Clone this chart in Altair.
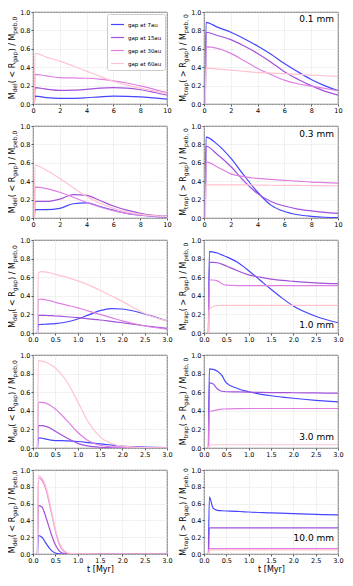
import altair as alt
import pandas as pd

# ---------------- data ----------------
series = ["gap at 7au", "gap at 15au", "gap at 30au", "gap at 60au"]
colors = ["#4646ff", "#a352dc", "#de80e3", "#ffc4d0"]
grain_sizes = ["0.1 mm", "0.3 mm", "1.0 mm", "3.0 mm", "10.0 mm"]

t_long = [0.1, 0.15, 1, 2, 3, 4, 5, 6, 7, 8, 9, 10]
t_short = [0.1, 0.12, 0.2, 0.3, 0.4, 0.5, 0.75, 1.0, 1.25, 1.5, 1.75, 2.0, 2.5, 3.0]
t_fast = [0.1, 0.12, 0.2, 0.3, 0.4, 0.5, 0.6, 0.7, 0.8, 1.0, 1.5, 2.0, 2.5, 3.0]

# 0.1 mm
del_01 = [
    [0, 0.085, 0.070, 0.062, 0.062, 0.068, 0.078, 0.085, 0.083, 0.077, 0.066, 0.054],
    [0, 0.177, 0.162, 0.148, 0.150, 0.160, 0.172, 0.177, 0.172, 0.155, 0.128, 0.097],
    [0, 0.322, 0.305, 0.287, 0.283, 0.280, 0.270, 0.252, 0.228, 0.197, 0.162, 0.123],
    [0, 0.550, 0.510, 0.466, 0.413, 0.357, 0.300, 0.247, 0.205, 0.172, 0.143, 0.115],
]
trap_01 = [
    [0, 0.888, 0.835, 0.780, 0.710, 0.630, 0.540, 0.440, 0.350, 0.267, 0.200, 0.144],
    [0, 0.780, 0.745, 0.700, 0.630, 0.550, 0.455, 0.350, 0.270, 0.200, 0.140, 0.097],
    [0, 0.620, 0.605, 0.550, 0.470, 0.386, 0.320, 0.260, 0.220, 0.195, 0.170, 0.144],
    [0, 0.390, 0.380, 0.368, 0.355, 0.343, 0.336, 0.330, 0.322, 0.314, 0.307, 0.300],
]
# 0.3 mm
del_03 = [
    [0, 0.090, 0.090, 0.105, 0.155, 0.165, 0.125, 0.085, 0.050, 0.030, 0.018, 0.010],
    [0, 0.180, 0.180, 0.205, 0.255, 0.245, 0.190, 0.130, 0.085, 0.052, 0.030, 0.020],
    [0, 0.335, 0.320, 0.280, 0.225, 0.170, 0.120, 0.080, 0.050, 0.030, 0.020, 0.012],
    [0, 0.575, 0.520, 0.430, 0.330, 0.235, 0.160, 0.105, 0.065, 0.040, 0.025, 0.015],
]
trap_03 = [
    [0, 0.880, 0.800, 0.650, 0.460, 0.280, 0.140, 0.070, 0.035, 0.018, 0.008, 0.004],
    [0, 0.780, 0.690, 0.560, 0.400, 0.265, 0.180, 0.130, 0.097, 0.077, 0.062, 0.050],
    [0, 0.610, 0.555, 0.480, 0.450, 0.430, 0.420, 0.410, 0.400, 0.390, 0.385, 0.380],
    [0, 0.360, 0.360, 0.360, 0.360, 0.358, 0.356, 0.355, 0.354, 0.352, 0.351, 0.350],
]
# 1.0 mm
del_10 = [
    [0, 0.090, 0.092, 0.095, 0.098, 0.100, 0.118, 0.150, 0.195, 0.240, 0.262, 0.258, 0.205, 0.130],
    [0, 0.190, 0.190, 0.188, 0.186, 0.183, 0.175, 0.165, 0.152, 0.140, 0.125, 0.110, 0.078, 0.050],
    [0, 0.360, 0.365, 0.355, 0.345, 0.330, 0.300, 0.270, 0.235, 0.200, 0.165, 0.130, 0.075, 0.040],
    [0, 0.650, 0.660, 0.655, 0.645, 0.630, 0.600, 0.560, 0.515, 0.460, 0.400, 0.340, 0.210, 0.130],
]
trap_10 = [
    [0, 0.875, 0.870, 0.860, 0.840, 0.820, 0.760, 0.670, 0.570, 0.470, 0.375, 0.290, 0.180, 0.110],
    [0, 0.760, 0.760, 0.755, 0.740, 0.720, 0.670, 0.625, 0.600, 0.580, 0.565, 0.555, 0.540, 0.530],
    [0, 0.570, 0.570, 0.560, 0.530, 0.515, 0.510, 0.510, 0.510, 0.510, 0.510, 0.510, 0.510, 0.510],
    [0, 0.250, 0.285, 0.295, 0.296, 0.296, 0.296, 0.296, 0.296, 0.296, 0.296, 0.296, 0.296, 0.296],
]
# 3.0 mm
del_30 = [
    [0, 0.110, 0.105, 0.095, 0.085, 0.080, 0.077, 0.070, 0.058, 0.045, 0.032, 0.020, 0.010, 0.005],
    [0, 0.240, 0.240, 0.230, 0.210, 0.180, 0.110, 0.050, 0.020, 0.008, 0.003, 0.001, 0.0, 0.0],
    [0, 0.490, 0.490, 0.480, 0.455, 0.420, 0.300, 0.170, 0.075, 0.030, 0.013, 0.006, 0.002, 0.001],
    [0, 0.940, 0.935, 0.920, 0.895, 0.860, 0.720, 0.500, 0.270, 0.120, 0.050, 0.020, 0.005, 0.002],
]
trap_30 = [
    [0, 0.850, 0.845, 0.825, 0.780, 0.700, 0.640, 0.605, 0.580, 0.562, 0.548, 0.535, 0.513, 0.495],
    [0, 0.700, 0.690, 0.635, 0.610, 0.605, 0.603, 0.600, 0.598, 0.596, 0.595, 0.594, 0.592, 0.590],
    [0, 0.390, 0.400, 0.410, 0.418, 0.420, 0.423, 0.425, 0.425, 0.425, 0.425, 0.425, 0.425, 0.425],
    [0, 0.030, 0.035, 0.035, 0.035, 0.035, 0.035, 0.035, 0.035, 0.035, 0.035, 0.035, 0.035, 0.035],
]
# 10.0 mm
del_100 = [
    [0, 0.220, 0.200, 0.120, 0.050, 0.012, 0.002, 0.0, 0.0, 0.0, 0.0, 0.0, 0.0, 0.0],
    [0, 0.580, 0.560, 0.420, 0.250, 0.110, 0.030, 0.006, 0.001, 0.0, 0.0, 0.0, 0.0, 0.0],
    [0, 0.910, 0.880, 0.750, 0.520, 0.280, 0.100, 0.030, 0.006, 0.0, 0.0, 0.0, 0.0, 0.0],
    [0, 0.935, 0.905, 0.780, 0.550, 0.300, 0.120, 0.040, 0.010, 0.001, 0.0, 0.0, 0.0, 0.0],
]
trap_100 = [
    [0, 0.680, 0.550, 0.520, 0.515, 0.512, 0.510, 0.508, 0.506, 0.500, 0.490, 0.480, 0.472, 0.465],
    [0, 0.310, 0.310, 0.310, 0.310, 0.310, 0.310, 0.310, 0.310, 0.310, 0.310, 0.310, 0.310, 0.310],
    [0, 0.065, 0.065, 0.065, 0.065, 0.065, 0.065, 0.065, 0.065, 0.065, 0.065, 0.065, 0.065, 0.065],
    [0, 0.050, 0.050, 0.050, 0.050, 0.050, 0.050, 0.050, 0.050, 0.050, 0.050, 0.050, 0.050, 0.050],
]

rows = [
    (t_long, del_01, trap_01),
    (t_long, del_03, trap_03),
    (t_short, del_10, trap_10),
    (t_short, del_30, trap_30),
    (t_fast, del_100, trap_100),
]

# ---------------- layout / style ----------------
PW = 134
ROW_H = [92, 92, 93, 93, 84]
FONT = "DejaVu Sans"
MAIN_FS, SUB_FS = 8.0, 6.0
TITLE_X = -18.0
SUB_SHIFT = 2.0

# approximate DejaVu Sans advance widths (em)
GW = {'M': 0.863, 'd': 0.635, 'e': 0.615, 'l': 0.278, '(': 0.390, ' ': 0.318,
      '<': 0.838, '>': 0.838, 'R': 0.695, 'g': 0.635, 'a': 0.613, 'p': 0.635,
      ')': 0.390, '/': 0.337, 'b': 0.635, ',': 0.318, '0': 0.636, 't': 0.392,
      'r': 0.411}

left_tokens = [("M", 0), ("del", 1), ("(", 0), (" ", 0), ("<", 0), (" ", 0), ("R", 0),
               ("gap", 1), (")", 0), (" ", 0), ("/", 0), (" ", 0), ("M", 0), ("peb,0", 1)]
right_tokens = [("M", 0), ("trap", 1), ("(", 0), (" ", 0), (">", 0), (" ", 0), ("R", 0),
                ("gap", 1), (")", 0), (" ", 0), ("/", 0), (" ", 0), ("M", 0), ("peb, 0", 1)]


def title_layer(tokens, ph):
    widths = [sum(GW[c] for c in s) * (SUB_FS if sub else MAIN_FS) for s, sub in tokens]
    total = sum(widths)
    y0 = ph / 2 + total / 2
    recs = []
    d = 0.0
    for (s, sub), w in zip(tokens, widths):
        if s.strip():
            recs.append({"txt": s, "x": TITLE_X + (SUB_SHIFT if sub else 0.0),
                         "y": y0 - d, "fs": SUB_FS if sub else MAIN_FS})
        d += w
    return alt.Chart(pd.DataFrame(recs)).mark_text(
        angle=270, align="left", baseline="alphabetic", font=FONT, color="black"
    ).encode(
        x=alt.X("x:Q", scale=None),
        y=alt.Y("y:Q", scale=None),
        size=alt.Size("fs:Q", scale=None),
        text="txt:N",
    )


# label centre: fraction of panel height from the top
label_frac = [0.08, 0.09, 0.91, 0.885, 0.81]


def panel(r, kind):
    t, dvals, tvals = rows[r]
    ph = ROW_H[r]
    vals = dvals if kind == "del" else tvals
    recs = []
    for k in range(4):
        for ti, vi in zip(t, vals[k]):
            recs.append({"t": ti, "v": vi, "s": series[k]})
    df = pd.DataFrame(recs)
    if r < 2:
        xmax, xvals, xfmt = 10, [0, 2, 4, 6, 8, 10], "d"
    else:
        xmax, xvals, xfmt = 3, [0, 0.5, 1.0, 1.5, 2.0, 2.5, 3.0], ".1f"
    x_axis = alt.Axis(values=xvals, format=xfmt, title="t [Myr]" if r == 4 else None,
                      titlePadding=1.5)
    y_axis = alt.Axis(values=[0, 0.2, 0.4, 0.6, 0.8, 1.0], format=".1f", title=None)
    if r == 0 and kind == "del":
        legend = alt.Legend(orient="top-right", title=None, offset=2, padding=3,
                            strokeColor="#cccccc", fillColor="white", cornerRadius=2,
                            symbolType="stroke", symbolSize=169, symbolStrokeWidth=1.2,
                            labelFontSize=5.5, labelFont=FONT, labelOffset=3, rowPadding=2)
    else:
        legend = None
    lines = alt.Chart(df).mark_line(strokeWidth=1.2, interpolate="monotone", clip=True).encode(
        x=alt.X("t:Q", scale=alt.Scale(domain=[0, xmax], nice=False, zero=False), axis=x_axis),
        y=alt.Y("v:Q", scale=alt.Scale(domain=[0, 1], nice=False), axis=y_axis),
        color=alt.Color("s:N", scale=alt.Scale(domain=series, range=colors), legend=legend),
    )
    layers = [lines, title_layer(left_tokens if kind == "del" else right_tokens, ph)]
    if kind == "trap":
        lbl = alt.Chart(pd.DataFrame({"txt": [grain_sizes[r]]})).mark_text(
            align="right", baseline="middle", fontSize=9, font=FONT, color="black"
        ).encode(x=alt.value(PW - 4), y=alt.value(label_frac[r] * ph), text="txt:N")
        layers.append(lbl)
    return alt.layer(*layers).properties(width=PW, height=ph)


panels = []
for r in range(5):
    panels.append(panel(r, "del"))
    panels.append(panel(r, "trap"))

chart = alt.concat(
    *panels, columns=2, spacing={"row": 22, "column": 37}, bounds="flush"
).resolve_legend(color="independent").properties(
    padding={"left": 0, "top": 0, "right": 0, "bottom": 0}
).configure_view(
    stroke="#333333", strokeWidth=0.8
).configure_axis(
    labelFont=FONT, labelFontSize=6.5, labelColor="black", labelPadding=1,
    tickColor="#333333", tickSize=2, tickWidth=0.8, domain=False,
    gridColor="#dddddd", gridWidth=0.6, gridDash=[2, 1],
    titleFont=FONT, titleFontSize=8, titleFontWeight="normal", titleColor="black",
    labelFlush=False, labelOverlap=False,
)

chart.save("out.html", embed_options={"renderer": "svg", "actions": False})
